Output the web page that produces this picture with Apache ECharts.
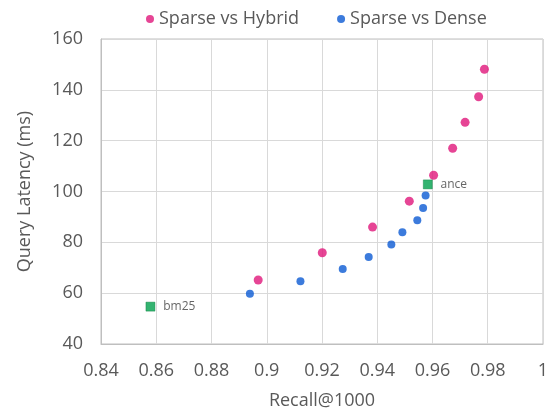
<!DOCTYPE html>
<html>
<head>
<meta charset="utf-8">
<script src="https://cdn.jsdelivr.net/npm/echarts@6/dist/echarts.min.js"></script>
<style>
  html, body { margin: 0; padding: 0; background: #fff; }
  #main { width: 553px; height: 413px; }
</style>
</head>
<body>
<div id="main"></div>
<script>
// Sparse vs Hybrid
var hybridRecall = [0.8969, 0.9201, 0.9383, 0.9516, 0.9604, 0.9673, 0.9718, 0.9767, 0.9788];
var hybridLatency = [65.2, 75.9, 86.0, 96.2, 106.4, 117.0, 127.2, 137.3, 148.1];
// Sparse vs Dense
var denseRecall = [0.8939, 0.9122, 0.9275, 0.9369, 0.9451, 0.9491, 0.9545, 0.9566, 0.9575];
var denseLatency = [59.8, 64.7, 69.5, 74.2, 79.1, 84.0, 88.7, 93.5, 98.4];
// baselines
var baseNames = ['bm25', 'ance'];
var baseRecall = [0.8579, 0.9583];
var baseLatency = [54.7, 102.8];

var font = 'Open Sans';
var grey = '#595959';

function pairs(xs, ys) {
  return xs.map(function (x, i) { return [x, ys[i]]; });
}

var chart = echarts.init(document.getElementById('main'));
var option = {
  animation: false,
  textStyle: { fontFamily: font },
  legend: {
    top: 5,
    left: 141,
    itemGap: 38,
    itemWidth: 8,
    itemHeight: 8,
    textStyle: { fontFamily: font, fontSize: 18, color: grey },
    data: [
      { name: 'Sparse vs Hybrid', icon: 'circle' },
      { name: 'Sparse vs Dense', icon: 'circle' }
    ]
  },
  grid: {
    left: 101, right: 10, top: 39, bottom: 69,
    outerBoundsMode: 'none',
    show: true, borderColor: '#bfbfbf', borderWidth: 1
  },
  xAxis: {
    type: 'value',
    min: 0.84, max: 1, interval: 0.02,
    name: 'Recall@1000',
    nameLocation: 'middle',
    nameGap: 48,
    nameTextStyle: { fontFamily: font, fontSize: 18, color: grey },
    axisLine: { show: true, lineStyle: { color: '#bfbfbf' } },
    axisTick: { show: false },
    axisLabel: {
      margin: 18, fontSize: 18, color: grey, fontFamily: font,
      formatter: function (v) { return String(+v.toFixed(2)); }
    },
    splitLine: { show: true, lineStyle: { color: '#d9d9d9' } }
  },
  yAxis: {
    type: 'value',
    min: 40, max: 160, interval: 20,
    name: 'Query Latency (ms)',
    nameLocation: 'middle',
    nameGap: 67,
    nameTextStyle: { fontFamily: font, fontSize: 18, color: grey },
    axisLine: { show: true, lineStyle: { color: '#bfbfbf' } },
    axisTick: { show: false },
    axisLabel: { margin: 18, fontSize: 18, color: grey, fontFamily: font },
    splitLine: { show: true, lineStyle: { color: '#d9d9d9' } }
  },
  series: [
    {
      name: 'Sparse vs Hybrid',
      type: 'scatter',
      symbol: 'circle',
      symbolSize: 9,
      itemStyle: { color: '#e0167b' },
      data: pairs(hybridRecall, hybridLatency),
      z: 3
    },
    {
      name: 'Sparse vs Dense',
      type: 'scatter',
      symbol: 'circle',
      symbolSize: 8,
      itemStyle: { color: '#0b5ad3' },
      data: pairs(denseRecall, denseLatency),
      z: 2
    },
    {
      name: 'baselines',
      type: 'scatter',
      symbol: 'rect',
      symbolSize: 9,
      itemStyle: { color: '#00a04c', borderColor: '#007a3a', borderWidth: 0.5 },
      label: {
        show: true,
        position: 'right',
        distance: 8,
        fontFamily: font,
        fontSize: 12,
        color: '#404040',
        formatter: function (p) { return baseNames[p.dataIndex]; }
      },
      data: pairs(baseRecall, baseLatency),
      z: 4
    }
  ]
};
chart.setOption(option);
</script>
</body>
</html>
